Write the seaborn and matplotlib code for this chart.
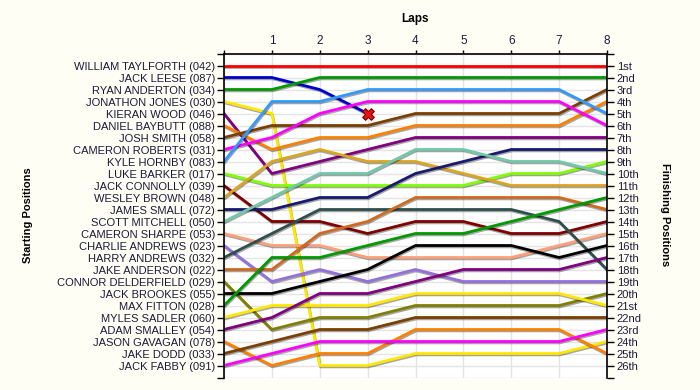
import matplotlib
matplotlib.use("Agg")
import matplotlib.pyplot as plt
import matplotlib.patheffects as pe
import seaborn as sns
import pandas as pd

laps = list(range(9))
lap_labels = ["", "1", "2", "3", "4", "5", "6", "7", "8"]

drivers = [
    "WILLIAM TAYLFORTH (042)", "JACK LEESE (087)", "RYAN ANDERTON (034)",
    "JONATHON JONES (030)", "KIERAN WOOD (046)", "DANIEL BAYBUTT (088)",
    "JOSH SMITH (058)", "CAMERON ROBERTS (031)", "KYLE HORNBY (083)",
    "LUKE BARKER (017)", "JACK CONNOLLY (039)", "WESLEY BROWN (048)",
    "JAMES SMALL (072)", "SCOTT MITCHELL (050)", "CAMERON SHARPE (053)",
    "CHARLIE ANDREWS (023)", "HARRY ANDREWS (032)", "JAKE ANDERSON (022)",
    "CONNOR DELDERFIELD (029)", "JACK BROOKES (055)", "MAX FITTON (028)",
    "MYLES SADLER (060)", "ADAM SMALLEY (054)", "JASON GAVAGAN (078)",
    "JAKE DODD (033)", "JACK FABBY (091)",
]

# position at lap 0..8 (shorter list = retired)
positions = [
    [1, 1, 1, 1, 1, 1, 1, 1, 1],
    [2, 2, 3, 5],
    [3, 3, 2, 2, 2, 2, 2, 2, 2],
    [4, 5, 26, 26, 25, 25, 25, 25, 24],
    [5, 10, 9, 8, 7, 7, 7, 7, 7],
    [6, 8, 7, 7, 6, 6, 6, 6, 4],
    [7, 6, 6, 6, 5, 5, 5, 5, 3],
    [8, 7, 5, 4, 4, 4, 4, 4, 6],
    [9, 4, 4, 3, 3, 3, 3, 3, 5],
    [10, 11, 11, 11, 11, 11, 10, 10, 9],
    [11, 14, 14, 15, 14, 14, 15, 15, 14],
    [12, 9, 8, 9, 9, 10, 11, 11, 11],
    [13, 13, 12, 12, 10, 9, 8, 8, 8],
    [14, 12, 10, 10, 8, 8, 9, 9, 10],
    [15, 16, 16, 17, 17, 17, 17, 16, 15],
    [16, 19, 18, 19, 18, 19, 19, 19, 19],
    [17, 15, 13, 13, 13, 13, 13, 14, 18],
    [18, 18, 15, 14, 12, 12, 12, 12, 13],
    [19, 23, 22, 22, 21, 21, 21, 21, 20],
    [20, 20, 19, 18, 16, 16, 16, 17, 16],
    [21, 17, 17, 16, 15, 15, 14, 13, 12],
    [22, 21, 21, 21, 20, 20, 20, 20, 21],
    [23, 22, 20, 20, 19, 18, 18, 18, 17],
    [24, 26, 25, 25, 23, 23, 23, 23, 25],
    [25, 24, 23, 23, 22, 22, 22, 22, 22],
    [26, 25, 24, 24, 24, 24, 24, 24, 23],
]

colors = [
    "#FF0000", "#0000CC", "#009900", "#FFE800", "#800080", "#FF8000",
    "#7B3F00", "#FF00FF", "#3399FF", "#80FF00", "#800000", "#DAA520",
    "#191970", "#70C8A8", "#FFA07A", "#9370DB", "#2F4F4F", "#D2691E",
    "#808000", "#000000", "#009900", "#FFE800", "#800080", "#FF8000",
    "#7B3F00", "#FF00FF",
]

ordinals = ["1st", "2nd", "3rd"] + [f"{i}th" for i in range(4, 21)] + \
    ["21st", "22nd", "23rd", "24th", "25th", "26th"]

rows = []
for name, pos in zip(drivers, positions):
    for lap, p in zip(laps, pos):
        rows.append((name, lap, p))
df = pd.DataFrame(rows, columns=["Driver", "Lap", "Position"])

sns.set_style("white")
plt.rcParams["font.family"] = ["Liberation Sans", "DejaVu Sans"]
text_color = "#1a1a3a"

fig = plt.figure(figsize=(7, 3.9), dpi=100, facecolor="#FFFEF4")
ax = fig.add_axes([224 / 700, 1 - 377.5 / 390, 383 / 700, 324 / 390])
ax.set_facecolor("white")

sns.lineplot(
    data=df, x="Lap", y="Position", hue="Driver", hue_order=drivers,
    palette=dict(zip(drivers, colors)), estimator=None, sort=False,
    legend=False, lw=2, ax=ax,
)
for line in ax.lines:
    line.set_path_effects([
        pe.SimpleLineShadow(offset=(0.5, -1), shadow_color="black", alpha=0.35),
        pe.Normal(),
    ])

# retired marker
for name, pos in zip(drivers, positions):
    if len(pos) < len(laps):
        sns.scatterplot(x=[laps[len(pos) - 1]], y=[pos[-1]], marker="X", s=70,
                        color="#EE1111", edgecolor="#700000", linewidth=0.8,
                        ax=ax, zorder=5, legend=False)

ax.set_xlim(0, 8)
ax.set_ylim(27, 0)
ax.set_xticks(laps)
ax.set_xticklabels(lap_labels)
ax.xaxis.tick_top()
ax.set_yticks(range(28))
ax.set_yticklabels([""] + drivers + [""])
ax.set_xlabel("")
ax.set_ylabel("")
ax.grid(True, color="#E4E4E4", lw=1)
ax.set_axisbelow(True)
ax.tick_params(axis="x", top=True, bottom=False, length=3, width=1,
               labelsize=8.5, pad=2, colors="black", labelcolor=text_color)
ax.tick_params(axis="y", left=True, length=5, width=1, labelsize=8,
               pad=1.5, colors="black", labelcolor=text_color)
ax.spines["bottom"].set_visible(False)
ax.spines["right"].set_visible(False)
for s in ["top", "left"]:
    ax.spines[s].set_color("black")
    ax.spines[s].set_linewidth(1.2)

ax2 = ax.twinx()
ax2.set_ylim(27, 0)
ax2.set_yticks(range(28))
ax2.set_yticklabels([""] + ordinals + [""])
ax2.tick_params(axis="y", right=True, length=5, width=1, labelsize=8,
                pad=2, colors="black", labelcolor=text_color)
for s in ["top", "left", "bottom"]:
    ax2.spines[s].set_visible(False)
ax2.spines["right"].set_color("black")
ax2.spines["right"].set_linewidth(1.2)

fig.text(415 / 700, 1 - 19 / 390, "Laps", ha="center", va="center",
         fontsize=8.5, fontweight="bold", color="black")
fig.text(28 / 700, 1 - 215 / 390, "Starting Positions", ha="center",
         va="center", rotation=90, fontsize=8, fontweight="bold", color="black")
fig.text(665 / 700, 1 - 215 / 390, "Finishing Positions", ha="center",
         va="center", rotation=270, fontsize=8, fontweight="bold", color="black")

fig.savefig("out.png", dpi=100, facecolor=fig.get_facecolor())
